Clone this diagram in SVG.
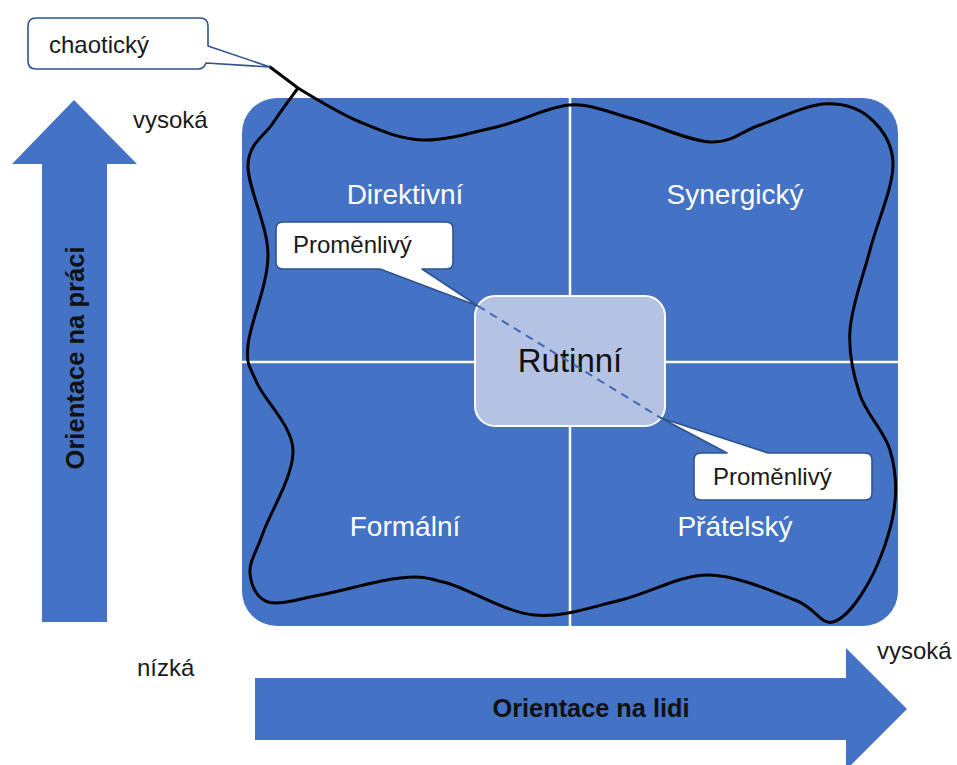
<svg xmlns="http://www.w3.org/2000/svg" width="957" height="765" viewBox="0 0 957 765">
<style>
.lbl{font-family:"Liberation Sans",Arial,sans-serif;font-size:24px;fill:#1a1a1a}
.quad{font-family:"Liberation Sans",Arial,sans-serif;font-size:28px;fill:#ffffff;text-anchor:middle}
.axis{font-family:"Liberation Sans",Arial,sans-serif;font-size:26px;font-weight:bold;fill:#111;text-anchor:middle}
.call{fill:#ffffff;stroke:#2f528f;stroke-width:1.6;stroke-linejoin:round}
.arrow{fill:#4472c4}
.grid{stroke:#ffffff;stroke-width:2.5}
</style>
<rect width="957" height="765" fill="#ffffff"/>
<g id="axis-y">
<polygon class="arrow" points="74,100 137,164 107,164 107,622 42,622 42,164 12,164"/>
<text class="axis" transform="translate(84,358) rotate(-90)" textLength="223" lengthAdjust="spacingAndGlyphs">Orientace na práci</text>
</g>
<g id="axis-x">
<polygon class="arrow" points="255,678 846,678 846,648 907,709 846,770 846,740 255,740"/>
<text class="axis" x="591" y="717" textLength="197" lengthAdjust="spacingAndGlyphs">Orientace na lidi</text>
</g>
<g id="axis-labels">
<text class="lbl" x="133" y="128">vysoká</text>
<text class="lbl" x="137" y="676">nízká</text>
<text class="lbl" x="877" y="659">vysoká</text>
</g>
<g id="grid">
<rect x="242" y="98" width="656" height="528" rx="35" fill="#4472c4"/>
<line class="grid" x1="570" y1="98" x2="570" y2="626"/>
<line class="grid" x1="242" y1="362" x2="898" y2="362"/>
</g>
<g id="q-direktivni"><text class="quad" x="405" y="204">Direktivní</text></g>
<g id="q-synergicky"><text class="quad" x="735" y="204">Synergický</text></g>
<g id="q-formalni"><text class="quad" x="405" y="536">Formální</text></g>
<g id="q-pratelsky"><text class="quad" x="735" y="536">Přátelský</text></g>
<g id="rutinni">
<rect x="475" y="296" width="190" height="130" rx="20" fill="#b4c3e4" stroke="#ffffff" stroke-width="2"/>
<text x="570" y="372" font-family="Liberation Sans, Arial, sans-serif" font-size="33" fill="#111" text-anchor="middle">Rutinní</text>
</g>
<g id="connectors">
<line x1="478" y1="306" x2="661" y2="418" stroke="#3d68b8" stroke-width="2" stroke-dasharray="8,6"/>
<path d="M270,67 L298,88 C313,97.2 339.2,113.3 360,122 C380.8,130.7 399.7,139.3 423,140 C446.3,140.7 475.5,131.8 500,126 C524.5,120.2 548.3,106.3 570,105 C591.7,103.7 606.7,111.8 630,118 C653.3,124.2 688.3,140.8 710,142 C731.7,143.2 741.2,131.3 760,125 C778.8,118.7 804.7,105.2 823,104 C841.3,102.8 858.3,107.8 870,118 C881.7,128.2 893,143 893,165 C893,187 877.2,222.5 870,250 C862.8,277.5 851.7,305.8 850,330 C848.3,354.2 853.3,375 860,395 C866.7,415 884.3,430.8 890,450 C895.7,469.2 897.3,488.3 894,510 C890.7,531.7 880.2,561.3 870,580 C859.8,598.7 845.5,618.7 833,622 C820.5,625.3 815.8,607.8 795,600 C774.2,592.2 737,575 708,575 C679,575 650,593.3 621,600 C592,606.7 563,617.8 534,615 C505,612.2 469.3,589.2 447,583 C424.7,576.8 421.2,576 400,578 C378.8,580 342,591 320,595 C298,599 279.7,605.7 268,602 C256.3,598.3 250.8,584.5 250,573 C249.2,561.5 255.8,553.5 263,533 C270.2,512.5 294,475 293,450 C292,425 264.5,400.5 257,383 C249.5,365.5 246.2,366.3 248,345 C249.8,323.7 268,285 268,255 C268,225 247.2,187 248,165 C248.8,143 264.7,135.8 273,123 C281.3,110.2 293.8,93.8 298,88" fill="none" stroke="#000" stroke-width="3" stroke-linejoin="round" stroke-linecap="round"/>
</g>
<g id="callout-chaoticky">
<path class="call" d="M36,18 H200 Q208,18 208,26 V46 L270,67 L206,63 Q204,69 198,69 H36 Q28,69 28,61 V26 Q28,18 36,18 Z"/>
<text class="lbl" x="49" y="53">chaotický</text>
</g>
<g id="callout-promenlivy-1">
<path class="call" d="M283,222 H446 Q453,222 453,229 V262 Q453,269 446,269 H422 L478,306 L380,269 H283 Q276,269 276,262 V229 Q276,222 283,222 Z"/>
<text class="lbl" x="293" y="253">Proměnlivý</text>
</g>
<g id="callout-promenlivy-2">
<path class="call" d="M701,453 H727 L661,418 L768,453 H865 Q872,453 872,460 V493 Q872,500 865,500 H701 Q694,500 694,493 V460 Q694,453 701,453 Z"/>
<text class="lbl" x="713" y="485">Proměnlivý</text>
</g>
</svg>
